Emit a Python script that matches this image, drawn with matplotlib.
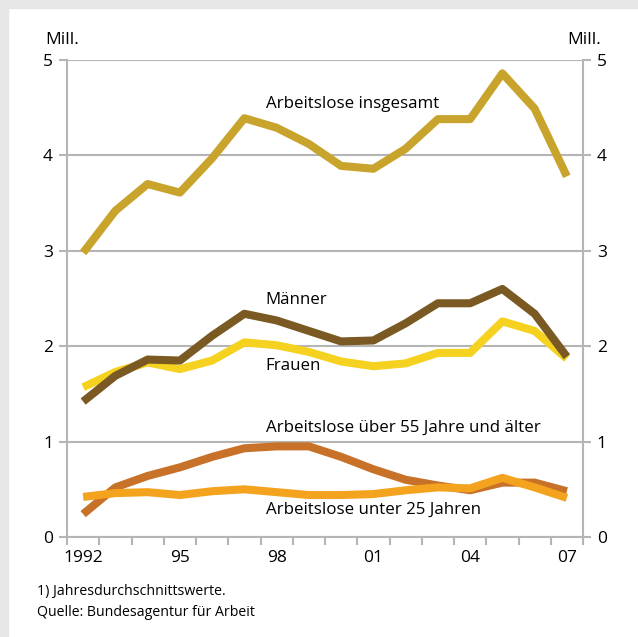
import matplotlib.pyplot as plt
from matplotlib.patches import Rectangle

years = list(range(1992, 2008))
year_labels = ["1992", "95", "98", "01", "04", "07"]
label_idx = [0, 3, 6, 9, 12, 15]

total = [2.98, 3.42, 3.70, 3.61, 3.97, 4.39, 4.29, 4.12, 3.89, 3.86, 4.07, 4.38, 4.38, 4.86, 4.49, 3.78]
maenner = [1.42, 1.69, 1.86, 1.85, 2.11, 2.34, 2.27, 2.16, 2.05, 2.06, 2.24, 2.45, 2.45, 2.60, 2.34, 1.89]
frauen = [1.57, 1.73, 1.83, 1.76, 1.85, 2.04, 2.01, 1.94, 1.84, 1.79, 1.82, 1.93, 1.93, 2.26, 2.16, 1.87]
ueber55 = [0.24, 0.52, 0.64, 0.73, 0.84, 0.93, 0.95, 0.95, 0.84, 0.71, 0.60, 0.54, 0.49, 0.57, 0.57, 0.48]
unter25 = [0.42, 0.46, 0.47, 0.44, 0.48, 0.50, 0.47, 0.44, 0.44, 0.45, 0.49, 0.52, 0.51, 0.62, 0.52, 0.41]

plt.rcParams["font.family"] = ["Open Sans", "DejaVu Sans"]
GRID = "#b5b5b5"

fig = plt.figure(figsize=(6.38, 6.37), dpi=100)
# grey frame strips at top and left
fig.patches.append(Rectangle((0, 1 - 8 / 637), 1, 8 / 637, transform=fig.transFigure,
                             color="#e6e6e6", zorder=0))
fig.patches.append(Rectangle((0, 0), 8 / 638, 1, transform=fig.transFigure,
                             color="#e6e6e6", zorder=0))

ax = fig.add_axes([67 / 638, 100 / 637, 516 / 638, 477 / 637])
x = range(len(years))
lw = 5.8
ax.plot(x, total, color="#c9a42c", lw=lw, solid_capstyle="butt", zorder=3)
ax.plot(x, frauen, color="#f4d21f", lw=lw, solid_capstyle="butt", zorder=3)
ax.plot(x, maenner, color="#7a5a22", lw=lw, solid_capstyle="butt", zorder=4)
ax.plot(x, ueber55, color="#c87128", lw=lw, solid_capstyle="butt", zorder=3)
ax.plot(x, unter25, color="#f4a31e", lw=lw, solid_capstyle="butt", zorder=4)

ax.set_xlim(-0.5, 15.5)
ax.set_ylim(0, 5)
ax.set_yticks(range(6))
ax.yaxis.grid(True, color=GRID, lw=1.5)
ax.set_axisbelow(True)
ax.set_xticks(label_idx)
ax.set_xticklabels(year_labels)
ax.set_xticks([i - 0.5 for i in range(17)], minor=True)
ax.tick_params(axis="x", which="major", length=0, pad=9, labelsize=12.5)
ax.tick_params(axis="x", which="minor", length=6, color=GRID, width=1.5)
ax.tick_params(axis="y", length=6, color=GRID, width=1.5, labelsize=12.5,
               left=True, right=True, labelleft=True, labelright=True, pad=4)
for s in ["left", "right", "bottom"]:
    ax.spines[s].set_color(GRID)
    ax.spines[s].set_linewidth(1.5)
ax.spines["top"].set_visible(False)

tx = 5.66
fs = 12.2
ax.text(tx, 4.54, "Arbeitslose insgesamt", fontsize=fs, va="center")
ax.text(tx, 2.48, "Männer", fontsize=fs, va="center")
ax.text(tx, 1.79, "Frauen", fontsize=fs, va="center")
ax.text(tx, 1.14, "Arbeitslose über 55 Jahre und älter", fontsize=fs, va="center")
ax.text(tx, 0.28, "Arbeitslose unter 25 Jahren", fontsize=fs, va="center")

fig.text(45 / 638, 1 - 40 / 637, "Mill.", fontsize=12.5, va="center")
fig.text(601 / 638, 1 - 40 / 637, "Mill.", fontsize=12.5, va="center", ha="right")
fig.text(37 / 638, 1 - 592 / 637, "1) Jahresdurchschnittswerte.", fontsize=10.2, va="center")
fig.text(37 / 638, 1 - 612 / 637, "Quelle: Bundesagentur für Arbeit", fontsize=10.2, va="center")

fig.savefig("out.png", dpi=100)
